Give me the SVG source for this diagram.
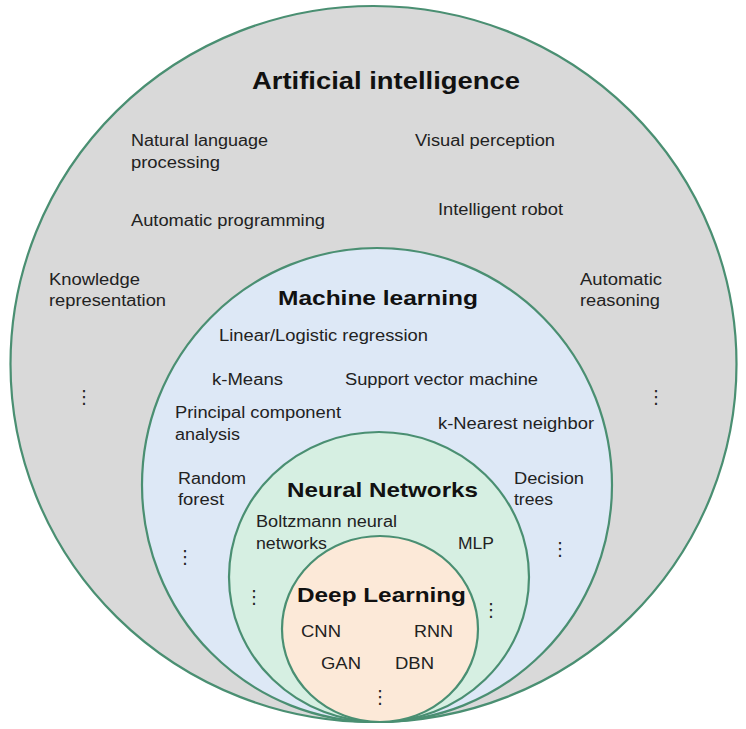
<svg xmlns="http://www.w3.org/2000/svg" width="746" height="729" viewBox="0 0 746 729">
<style>
.c{stroke:#4a8f72;stroke-width:2.2}
.t{font-family:"Liberation Sans",Arial,sans-serif;font-size:16px;fill:#222}
.b{font-family:"Liberation Sans",Arial,sans-serif;font-size:21px;font-weight:bold;fill:#111}
.d{font-family:"DejaVu Sans",sans-serif;font-size:18px;fill:#222}
</style>
<rect width="746" height="729" fill="#ffffff"/>
<g id="ai">
<ellipse class="c" cx="373.5" cy="364" rx="363" ry="358" fill="#d9d9d9"/>
<text class="b" x="252" y="89" textLength="268" lengthAdjust="spacingAndGlyphs" style="font-size:23px">Artificial intelligence</text>
<text class="t" x="131" y="146" textLength="137" lengthAdjust="spacingAndGlyphs">Natural language</text>
<text class="t" x="131" y="168" textLength="89" lengthAdjust="spacingAndGlyphs">processing</text>
<text class="t" x="415" y="146" textLength="140" lengthAdjust="spacingAndGlyphs">Visual perception</text>
<text class="t" x="131" y="226" textLength="194" lengthAdjust="spacingAndGlyphs">Automatic programming</text>
<text class="t" x="438" y="215" textLength="125" lengthAdjust="spacingAndGlyphs">Intelligent robot</text>
<text class="t" x="49" y="285" textLength="91" lengthAdjust="spacingAndGlyphs">Knowledge</text>
<text class="t" x="49" y="306" textLength="117" lengthAdjust="spacingAndGlyphs">representation</text>
<text class="t" x="580" y="285" textLength="82" lengthAdjust="spacingAndGlyphs">Automatic</text>
<text class="t" x="580" y="306" textLength="80" lengthAdjust="spacingAndGlyphs">reasoning</text>
<text class="d" x="84" y="403" text-anchor="middle">⋮</text>
<text class="d" x="656" y="403" text-anchor="middle">⋮</text>
</g>
<g id="ml">
<ellipse class="c" cx="377" cy="485" rx="235" ry="237" fill="#dde8f6"/>
<text class="b" x="278" y="305" textLength="200" lengthAdjust="spacingAndGlyphs">Machine learning</text>
<text class="t" x="219" y="341" textLength="209" lengthAdjust="spacingAndGlyphs">Linear/Logistic regression</text>
<text class="t" x="212" y="385" textLength="71" lengthAdjust="spacingAndGlyphs">k-Means</text>
<text class="t" x="345" y="385" textLength="193" lengthAdjust="spacingAndGlyphs">Support vector machine</text>
<text class="t" x="175" y="418" textLength="166" lengthAdjust="spacingAndGlyphs">Principal component</text>
<text class="t" x="175" y="440" textLength="65" lengthAdjust="spacingAndGlyphs">analysis</text>
<text class="t" x="438" y="429" textLength="156" lengthAdjust="spacingAndGlyphs">k-Nearest neighbor</text>
<text class="t" x="178" y="484" textLength="68" lengthAdjust="spacingAndGlyphs">Random</text>
<text class="t" x="178" y="505" textLength="46" lengthAdjust="spacingAndGlyphs">forest</text>
<text class="t" x="514" y="484" textLength="70" lengthAdjust="spacingAndGlyphs">Decision</text>
<text class="t" x="514" y="505" textLength="39" lengthAdjust="spacingAndGlyphs">trees</text>
<text class="d" x="185" y="563" text-anchor="middle">⋮</text>
<text class="d" x="560" y="555" text-anchor="middle">⋮</text>
</g>
<g id="nn">
<ellipse class="c" cx="379" cy="577" rx="150" ry="145" fill="#d6efe2"/>
<text class="b" x="287" y="497" textLength="191" lengthAdjust="spacingAndGlyphs">Neural Networks</text>
<text class="t" x="256" y="527" textLength="141" lengthAdjust="spacingAndGlyphs">Boltzmann neural</text>
<text class="t" x="256" y="549" textLength="71" lengthAdjust="spacingAndGlyphs">networks</text>
<text class="t" x="458" y="549" textLength="36" lengthAdjust="spacingAndGlyphs">MLP</text>
<text class="d" x="254" y="603" text-anchor="middle">⋮</text>
<text class="d" x="491" y="616" text-anchor="middle">⋮</text>
</g>
<g id="dl">
<ellipse class="c" cx="380" cy="629" rx="98" ry="93" fill="#fce9d8"/>
<text class="b" x="297" y="602" textLength="169" lengthAdjust="spacingAndGlyphs">Deep Learning</text>
<text class="t" x="301" y="637" textLength="40" lengthAdjust="spacingAndGlyphs">CNN</text>
<text class="t" x="414" y="637" textLength="39" lengthAdjust="spacingAndGlyphs">RNN</text>
<text class="t" x="321" y="669" textLength="40" lengthAdjust="spacingAndGlyphs">GAN</text>
<text class="t" x="395" y="669" textLength="39" lengthAdjust="spacingAndGlyphs">DBN</text>
<text class="d" x="380" y="703" text-anchor="middle">⋮</text>
</g>
<g id="connectors"/>
</svg>
